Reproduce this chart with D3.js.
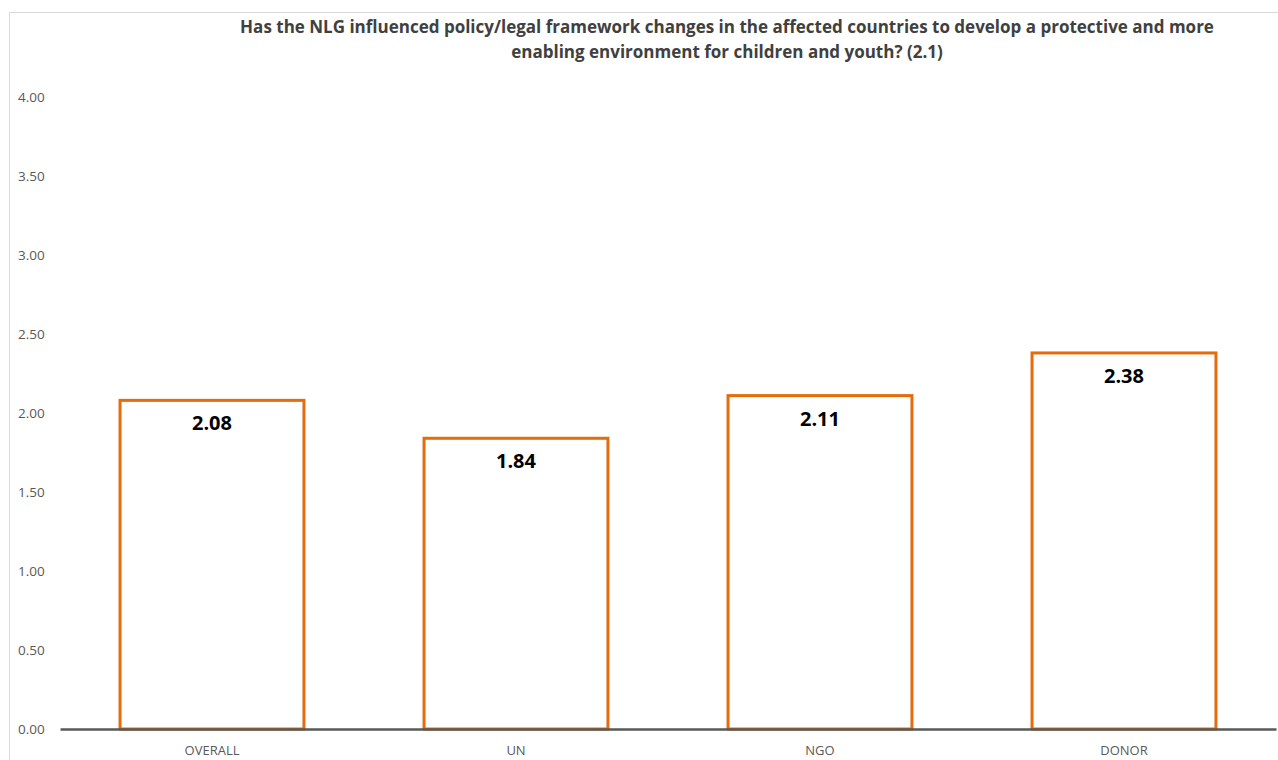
<!DOCTYPE html>
<html>
<head>
<meta charset="utf-8">
<script src="https://d3js.org/d3.v7.min.js"></script>
<style>
  html, body { margin: 0; padding: 0; background: #fff; }
  svg { display: block; }
</style>
</head>
<body>
<svg id="chart" width="1278" height="760"></svg>
<script>
// Mean scores by respondent group
const categories = ["OVERALL", "UN", "NGO", "DONOR"];
const values = [2.08, 1.84, 2.11, 2.38];
const yTicks = [0, 0.5, 1, 1.5, 2, 2.5, 3, 3.5, 4];
const titleLines = [
  "Has the NLG influenced policy/legal framework changes in the affected countries to develop a protective and more",
  "enabling environment for children and youth? (2.1)"
];

const svg = d3.select("#chart");
const font = "'Open Sans', 'Noto Sans', sans-serif";

// Chart frame
svg.append("rect")
  .attr("x", 9.5).attr("y", 12.5)
  .attr("width", 1300).attr("height", 800)
  .attr("fill", "#fff").attr("stroke", "#d9d9d9").attr("stroke-width", 1);

const plot = { left: 60, right: 1276, top: 97, bottom: 729 };

const x = d3.scaleBand()
  .domain(categories)
  .range([plot.left, plot.right])
  .paddingInner(0.395)
  .paddingOuter(0.1975);

const y = d3.scaleLinear()
  .domain([0, 4])
  .range([plot.bottom, plot.top]);

// Title
svg.append("g")
  .selectAll("text")
  .data(titleLines)
  .join("text")
  .attr("x", 727)
  .attr("y", (d, i) => 33 + i * 25)
  .attr("text-anchor", "middle")
  .attr("font-family", font)
  .attr("font-weight", "bold")
  .attr("font-size", 17)
  .attr("fill", "#404040")
  .text(d => d);

// Y axis tick labels (no axis line)
const yAxis = d3.axisLeft(y)
  .tickValues(yTicks)
  .tickFormat(d3.format(".2f"))
  .tickSize(0);
const yg = svg.append("g")
  .attr("transform", `translate(18,0)`)
  .call(yAxis);
yg.select(".domain").remove();
yg.selectAll("text")
  .attr("text-anchor", "start")
  .attr("x", 0)
  .attr("font-family", font)
  .attr("font-size", 13.5)
  .attr("fill", "#595959");

// Bars
svg.append("g")
  .selectAll("rect")
  .data(values)
  .join("rect")
  .attr("x", (d, i) => x(categories[i]))
  .attr("y", d => y(d))
  .attr("width", x.bandwidth())
  .attr("height", d => y(0) - y(d))
  .attr("fill", "#fff")
  .attr("stroke", "#e46c0a")
  .attr("stroke-width", 3);

// Value labels inside bars
svg.append("g")
  .selectAll("text")
  .data(values)
  .join("text")
  .attr("x", (d, i) => x(categories[i]) + x.bandwidth() / 2)
  .attr("y", d => y(d) + 30)
  .attr("text-anchor", "middle")
  .attr("font-family", font)
  .attr("font-weight", "bold")
  .attr("font-size", 20)
  .attr("fill", "#000")
  .text(d => d.toFixed(2));

// X axis baseline and category labels
const xAxis = d3.axisBottom(x).tickSize(0).tickPadding(17);
const xg = svg.append("g")
  .attr("transform", `translate(0,${y(0)})`)
  .call(xAxis);
xg.select(".domain")
  .attr("stroke", "#595959")
  .attr("stroke-width", 2.5);
xg.selectAll("text")
  .attr("font-family", font)
  .attr("font-size", 13)
  .attr("fill", "#595959");
</script>
</body>
</html>
